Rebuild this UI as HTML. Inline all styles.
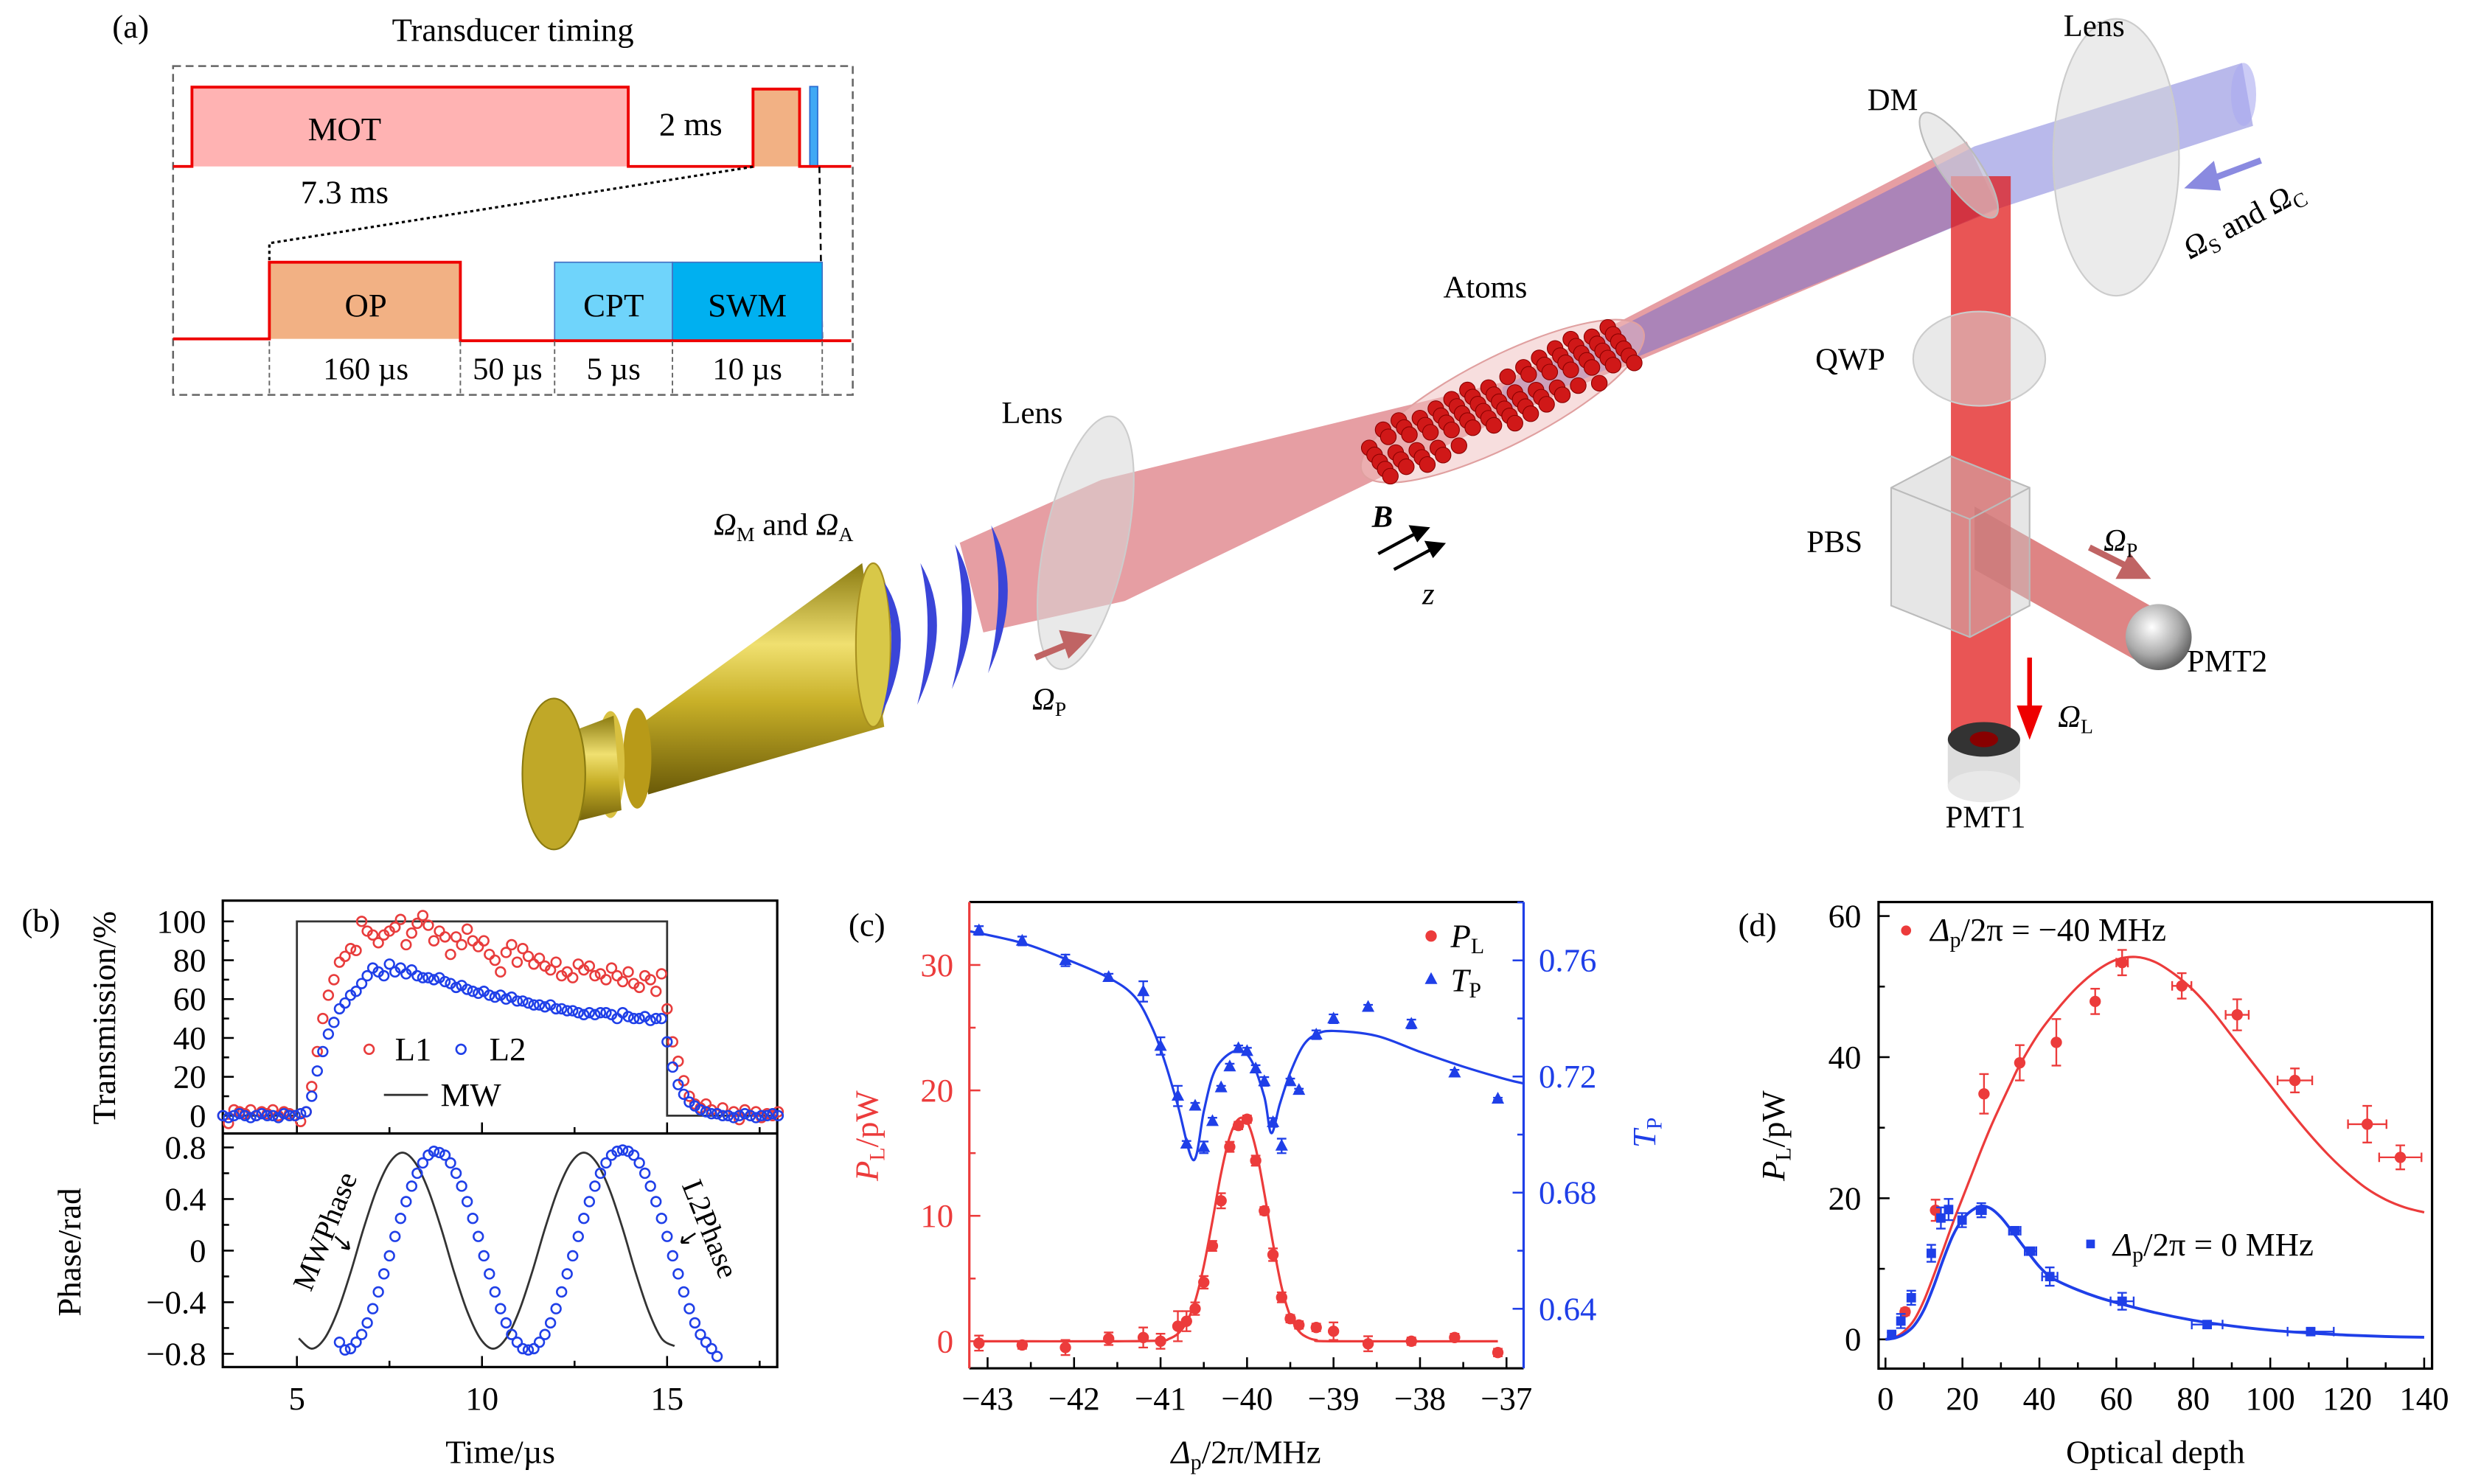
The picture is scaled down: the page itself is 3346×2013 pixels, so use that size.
<!DOCTYPE html>
<html><head><meta charset="utf-8"><style>
html,body{margin:0;padding:0;background:#fff;}
svg, svg text{font-family:"Liberation Serif","DejaVu Serif",serif;}
</style></head><body>
<svg id="fig" xmlns="http://www.w3.org/2000/svg" width="3346" height="2008" viewBox="0 0 1568 941" font-family="Liberation Serif, serif">
<defs>
<linearGradient id="gold" x1="0" y1="0" x2="0" y2="1"><stop offset="0" stop-color="#8a7a10"/><stop offset="0.35" stop-color="#f0e070"/><stop offset="0.6" stop-color="#c8b028"/><stop offset="1" stop-color="#6a5a08"/></linearGradient>
<radialGradient id="sph" cx="0.4" cy="0.35" r="0.7"><stop offset="0" stop-color="#fff"/><stop offset="0.6" stop-color="#aaa"/><stop offset="1" stop-color="#555"/></radialGradient>
</defs>
<!-- Panel a: timing -->
<g>
<text x="83" y="24" font-size="21" text-anchor="middle">(a)</text>
<text x="326" y="26" font-size="21" text-anchor="middle">Transducer timing</text>
<rect x="110" y="42" width="432" height="209" fill="none" stroke="#666" stroke-width="1.2" stroke-dasharray="5,3"/>
<rect x="122" y="55.4" width="277" height="50.4" fill="#ffb3b3"/>
<rect x="478.6" y="56.6" width="29.6" height="49.2" fill="#f2b184"/>
<rect x="514.7" y="55" width="5" height="50.8" fill="#3fa9f5" stroke="#2a6bd0" stroke-width="0.8"/>
<polyline points="110,105.8 122,105.8 122,55.4 399.3,55.4 399.3,105.8 478.6,105.8 478.6,56.6 508.2,56.6 508.2,105.8 541,105.8" fill="none" stroke="#e00" stroke-width="1.8"/>
<text x="219" y="89" font-size="21" text-anchor="middle">MOT</text>
<text x="439" y="86" font-size="21" text-anchor="middle">2 ms</text>
<text x="219" y="129" font-size="21" text-anchor="middle">7.3 ms</text>
<polyline points="478.6,106 171.2,154.6 171.2,166.7" fill="none" stroke="#000" stroke-width="1.5" stroke-dasharray="2,2"/>
<line x1="520.8" y1="106" x2="522.6" y2="216.7" stroke="#000" stroke-width="1.2" stroke-dasharray="4,3"/>
<rect x="171.2" y="166.7" width="121.4" height="48.7" fill="#f2b184"/>
<rect x="352.5" y="166.7" width="74.9" height="49.5" fill="#6fd4fb" stroke="#4472c4" stroke-width="0.8"/>
<rect x="427.4" y="166.7" width="95.2" height="49.5" fill="#00b0f0" stroke="#4472c4" stroke-width="0.8"/>
<polyline points="110,215.4 171.2,215.4 171.2,166.7 292.6,166.7 292.6,216.6 541,216.6" fill="none" stroke="#e00" stroke-width="1.8"/>
<text x="232.5" y="201" font-size="21" text-anchor="middle">OP</text>
<text x="390" y="201" font-size="21" text-anchor="middle">CPT</text>
<text x="475" y="201" font-size="21" text-anchor="middle">SWM</text>
<g stroke="#666" stroke-width="0.9" stroke-dasharray="3,2">
<line x1="171.2" y1="217" x2="171.2" y2="251"/><line x1="292.6" y1="217" x2="292.6" y2="251"/><line x1="352.5" y1="217" x2="352.5" y2="251"/><line x1="427.4" y1="217" x2="427.4" y2="251"/><line x1="522.6" y1="217" x2="522.6" y2="251"/>
</g>
<text x="232.5" y="241" font-size="20" text-anchor="middle">160 µs</text>
<text x="322.6" y="241" font-size="20" text-anchor="middle">50 µs</text>
<text x="390" y="241" font-size="20" text-anchor="middle">5 µs</text>
<text x="475" y="241" font-size="20" text-anchor="middle">10 µs</text>
</g>
<!-- Illustration -->
<g>
<polygon points="610,345 700,305 955,243 1250,90 1270,132 955,266 715,382 625,402" fill="rgba(200,40,50,0.45)"/>
<polygon points="1425,40 1255,93 955,246 955,262 1272,132 1432,80" fill="rgba(100,100,210,0.45)"/>
<ellipse cx="1426" cy="60" rx="8" ry="20" fill="rgba(170,170,240,0.6)"/>
<rect x="1240" y="112" width="38" height="360" fill="rgba(225,20,20,0.72)"/>
<polygon points="1255,322 1372,388 1365,424 1255,362" fill="rgba(200,50,50,0.6)"/>
<ellipse cx="690" cy="345" rx="26" ry="82" transform="rotate(12 690 345)" fill="rgba(215,215,215,0.55)" stroke="#ccc"/>
<ellipse cx="1345" cy="100" rx="40" ry="88" fill="rgba(215,215,215,0.5)" stroke="#ccc"/>
<ellipse cx="1245" cy="105" rx="12" ry="40" transform="rotate(-35 1245 105)" fill="rgba(220,220,220,0.6)" stroke="#bbb"/>
<ellipse cx="1258" cy="228" rx="42" ry="30" fill="rgba(215,215,215,0.55)" stroke="#ccc"/>
<g>
<polygon points="1202,310 1240,290 1290,310 1290,385 1252,405 1202,385" fill="rgba(200,200,200,0.45)" stroke="#bbb"/>
<polyline points="1202,310 1252,330 1290,310" fill="none" stroke="#bbb"/><line x1="1252" y1="330" x2="1252" y2="405" stroke="#bbb"/>
</g>
<g><rect x="1238" y="470" width="46" height="30" fill="#ddd"/><ellipse cx="1261" cy="500" rx="23" ry="10" fill="#e8e8e8"/><ellipse cx="1261" cy="470" rx="23" ry="11" fill="#333"/><ellipse cx="1261" cy="470" rx="9" ry="5" fill="#800"/></g>
<circle cx="1372" cy="405" r="21" fill="url(#sph)"/>
<ellipse cx="955" cy="255" rx="100" ry="28" transform="rotate(-27 955 255)" fill="rgba(240,190,190,0.5)" stroke="#e0a0a0"/>
<g id="atoms"></g>
<g>
<polygon points="405,462 548,358 562,462 412,505" fill="url(#gold)"/>
<ellipse cx="555" cy="410" rx="11" ry="52" fill="#d8c848" stroke="#a89020"/>
<ellipse cx="405" cy="482" rx="9" ry="32" fill="#b89a18"/>
<ellipse cx="388" cy="486" rx="9" ry="34" fill="#d8c040"/>
<polygon points="350,470 390,455 395,515 355,525" fill="url(#gold)"/>
<ellipse cx="352" cy="492" rx="20" ry="48" fill="#c0a828" stroke="#8a7a10"/>
</g>
<g fill="#3a45d8">
<path d="M562,370 q22,35 -2,85 q12,-45 2,-85z"/><path d="M585,358 q22,38 -2,90 q12,-48 2,-90z"/><path d="M607,346 q22,38 -2,92 q12,-48 2,-92z"/><path d="M630,334 q22,40 -2,94 q12,-50 2,-94z"/>
</g>
<g stroke="#c06464" stroke-width="4" fill="#c06464"><line x1="658" y1="418" x2="680" y2="409"/><polygon points="690,405 676,403 680,415"/></g>
<g stroke="#8a8ae0" stroke-width="4" fill="#8a8ae0"><line x1="1437" y1="102" x2="1405" y2="114"/><polygon points="1393,118 1406,106 1409,119"/></g>
<g stroke="#e00" stroke-width="3" fill="#e00"><line x1="1290" y1="418" x2="1290" y2="452"/><polygon points="1290,466 1284,450 1296,450"/></g>
<g stroke="#c06464" stroke-width="4" fill="#c06464"><line x1="1328" y1="348" x2="1352" y2="360"/><polygon points="1363,366 1348,366 1354,355"/></g>
<g stroke="#000" stroke-width="2" fill="#000"><line x1="876" y1="352" x2="900" y2="339"/><polygon points="907,336 897,335 901,343"/><line x1="886" y1="362" x2="910" y2="349"/><polygon points="917,346 907,345 911,353"/></g>
<g font-size="20">
<text x="656" y="269" text-anchor="middle">Lens</text>
<text x="944" y="189" text-anchor="middle">Atoms</text>
<text x="1203" y="70" text-anchor="middle">DM</text>
<text x="1331" y="23" text-anchor="middle">Lens</text>
<text x="1176" y="235" text-anchor="middle">QWP</text>
<text x="1166" y="351" text-anchor="middle">PBS</text>
<text x="1390" y="427">PMT2</text>
<text x="1262" y="526" text-anchor="middle">PMT1</text>
<text x="498" y="340" text-anchor="middle"><tspan font-style="italic">Ω</tspan><tspan font-size="13" dy="4">M</tspan><tspan dy="-4"> and </tspan><tspan font-style="italic">Ω</tspan><tspan font-size="13" dy="4">A</tspan></text>
<text x="656" y="451"><tspan font-style="italic">Ω</tspan><tspan font-size="13" dy="4">P</tspan></text>
<text x="1337" y="350"><tspan font-style="italic">Ω</tspan><tspan font-size="13" dy="4">P</tspan></text>
<text x="1308" y="462"><tspan font-style="italic">Ω</tspan><tspan font-size="13" dy="4">L</tspan></text>
<text x="1392" y="165" transform="rotate(-28 1392 165)"><tspan font-style="italic">Ω</tspan><tspan font-size="13" dy="4">S</tspan><tspan dy="-4"> and </tspan><tspan font-style="italic">Ω</tspan><tspan font-size="13" dy="4">C</tspan></text>
<text x="872" y="335" font-weight="bold" font-style="italic">B</text>
<text x="904" y="384" font-style="italic">z</text>
</g>
</g>
<g id="pb"></g>
<g id="pc"></g>
<g id="pd"></g>
</svg>
<script>
// ---------- Panel b data ----------
const bT0 = 3.0, bDT = 0.15;
const bL1 = [0,-4,3,2,1,3,0,2,1,3,0,2,1,0,-3,2,15,33,50,62,70,79,82,86,85,100,95,93,89,93,95,97,101,88,94,99,103,98,90,95,92,83,92,88,96,90,87,90,83,80,74,84,88,79,86,82,78,81,77,75,79,72,74,71,78,75,77,72,73,70,76,72,69,74,68,66,72,70,64,73,55,38,28,18,10,6,4,6,3,1,4,0,2,-2,3,0,2,-1,1,0,2];
const bL2 = [0,-1,0,1,0,-1,0,1,0,0,-1,1,0,0,1,2,10,23,33,42,48,55,58,62,64,68,72,76,74,72,78,74,76,73,75,72,71,71,70,71,69,68,66,67,65,64,63,64,62,61,62,60,61,59,59,58,57,57,56,57,55,55,54,54,53,52,53,52,53,53,52,50,53,51,50,50,51,49,50,50,38,25,16,11,7,5,3,2,1,1,0,0,-1,0,1,0,-1,0,0,1,0];
const bMWt = [3,5,5,15,15,18];
const bMWv = [0,0,100,100,0,0];
const bPhT0 = 5.05, bPhDT = 0.35;
const bMWPhase = [-0.68,-0.76,-0.68,-0.47,-0.17,0.17,0.47,0.68,0.76,0.68,0.47,0.17,-0.17,-0.47,-0.68,-0.76,-0.68,-0.47,-0.17,0.17,0.47,0.68,0.76,0.68,0.47,0.17,-0.17,-0.47,-0.68,-0.74];
const bL2T0 = 6.15, bL2DT = 0.15;
const bL2Phase = [-0.71,-0.77,-0.76,-0.71,-0.65,-0.56,-0.45,-0.32,-0.18,-0.04,0.11,0.25,0.38,0.50,0.60,0.68,0.74,0.77,0.76,0.74,0.68,0.60,0.50,0.38,0.25,0.11,-0.04,-0.18,-0.32,-0.45,-0.56,-0.65,-0.71,-0.76,-0.77,-0.76,-0.71,-0.65,-0.56,-0.45,-0.32,-0.18,-0.04,0.11,0.25,0.38,0.50,0.60,0.68,0.74,0.77,0.78,0.77,0.74,0.68,0.60,0.50,0.38,0.25,0.11,-0.04,-0.18,-0.32,-0.45,-0.56,-0.65,-0.71,-0.76,-0.82];
const bXTicks = [5,10,15];
const bTTicks = [0,20,40,60,80,100];
const bPTicks = [0.8,0.4,0,-0.4,-0.8];
const bPTickLabels = ["0.8","0.4","0","\u22120.4","\u22120.8"];
// ---------- Panel c data ----------
const cX = [-43.1,-42.6,-42.1,-41.6,-41.2,-41.0,-40.8,-40.7,-40.6,-40.5,-40.4,-40.3,-40.2,-40.1,-40.0,-39.9,-39.8,-39.7,-39.6,-39.5,-39.4,-39.2,-39.0,-38.6,-38.1,-37.6,-37.1];
const cPL = [-0.15,-0.3,-0.5,0.2,0.3,0,1.2,1.6,2.6,4.7,7.6,11.2,15.5,17.2,17.7,14.4,10.4,6.9,3.5,1.8,1.3,1.1,0.8,-0.2,0,0.3,-0.9];
const cPLerr = [0.6,0.3,0.6,0.5,0.8,0.6,1.2,0.8,0.5,0.5,0.4,0.6,0.4,0.3,0.3,0.4,0.3,0.5,0.4,0.3,0.3,0.3,0.7,0.6,0.3,0.3,0.3];
const cTP = [0.7703,0.7667,0.760,0.7542,0.7493,0.7305,0.7133,0.6968,0.7099,0.6956,0.7046,0.7162,0.7234,0.7297,0.7287,0.7227,0.7183,0.7042,0.6961,0.7183,0.7153,0.7344,0.7399,0.7439,0.7381,0.7213,0.7123];
const cTPerr = [0.0015,0.0015,0.002,0.0012,0.0035,0.003,0.0035,0.001,0.001,0.002,0.0012,0.0006,0.001,0.001,0.0012,0.0012,0.0015,0.0015,0.0025,0.001,0.0005,0.0015,0.0015,0.0008,0.0015,0.001,0.0004];
const cFitPLx = [-43.1,-41.5,-41.0,-40.9,-40.8,-40.7,-40.6,-40.5,-40.4,-40.3,-40.2,-40.1,-40.0,-39.9,-39.8,-39.7,-39.6,-39.5,-39.4,-39.3,-39.2,-39.0,-37.1];
const cFitPLy = [0,0,0.05,0.2,0.6,1.5,3.2,6.0,9.6,13.4,16.3,17.7,17.5,15.4,11.8,7.8,4.3,2.0,0.8,0.3,0.1,0,0];
const cFitTPx = [-43.2,-42.6,-42.1,-41.6,-41.3,-41.1,-40.95,-40.8,-40.62,-40.5,-40.4,-40.28,-40.1,-39.95,-39.8,-39.72,-39.62,-39.5,-39.35,-39.2,-39.0,-38.5,-38.0,-37.5,-37.0,-36.8];
const cFitTPy = [0.7700,0.7660,0.7605,0.7540,0.7475,0.7370,0.7250,0.7100,0.6912,0.7080,0.7200,0.7260,0.7290,0.7255,0.7130,0.7005,0.7106,0.7213,0.7307,0.7345,0.7357,0.7340,0.7285,0.7234,0.7190,0.7176];
const cXTicks = [-43,-42,-41,-40,-39,-38,-37];
const cXTickLabels = ["\u221243","\u221242","\u221241","\u221240","\u221239","\u221238","\u221237"];
const cLTicks = [0,10,20,30];
const cRTicks = [0.64,0.68,0.72,0.76];
// ---------- Panel d data ----------
const dRedX = [5.1,13.0,25.6,34.9,44.4,54.5,61.5,77.0,91.4,106.4,125.2,133.8];
const dRedY = [3.9,18.3,34.8,39.2,42.1,47.9,53.4,50.1,46.0,36.7,30.5,25.8];
const dRedYerr = [0.5,1.5,2.8,2.5,3.3,1.8,1.8,1.8,2.2,1.7,2.6,1.7];
const dRedXerr = [0,0,0,0,0,0,1.5,2.5,3,4.5,5,5.5];
const dBlueX = [1.6,4.0,6.7,11.9,14.4,16.4,19.9,24.9,33.6,37.7,42.7,61.5,83.6,110.5];
const dBlueY = [0.7,2.6,5.9,12.2,17.2,18.4,16.9,18.3,15.4,12.5,8.9,5.4,2.1,1.1];
const dBlueYerr = [0.3,1,1,1.2,1.5,1.5,1,1,0.5,0.5,1.3,1.2,0.5,0.4];
const dBlueXerr = [0,0,0,0,0,0,0,1.2,1.5,1.5,2,3,4,6];
const dFitRedX = [0,2.5,5,7.5,10,12.5,15,17.5,20,22.5,25,27.5,30,32.5,35,40,45,50,55,60,65,70,75,80,85,90,95,100,105,110,115,120,125,130,135,140];
const dFitRedY = [0,0.3,1.2,2.8,5.5,9,12.7,16.5,20,23.5,27,30.3,33.3,36.2,39,43.5,47,50,52.3,53.8,54.2,53.5,51.8,49.5,46.5,43,39.5,36,32.5,29.2,26.2,23.6,21.4,19.8,18.7,18.0];
const dFitBlueX = [0,2.5,5,7.5,10,12.5,15,17.5,20,22.5,25,27.5,30,32.5,35,37.5,40,42.5,45,50,55,60,70,80,90,100,110,120,130,140];
const dFitBlueY = [0,0.2,0.8,2,4.2,7.5,11.3,14.7,17,18.3,18.9,18.5,17.3,15.6,13.8,12,10.3,9.0,8.2,7,6,5.2,3.8,2.7,1.9,1.3,0.9,0.6,0.4,0.3];
const dXTicks = [0,20,40,60,80,100,120,140];
const dYTicks = [0,20,40,60];

const NS = 'http://www.w3.org/2000/svg';
function mk(tag, attrs, parent){ const e=document.createElementNS(NS,tag); for(const k in attrs) e.setAttribute(k, attrs[k]); parent.appendChild(e); return e; }
function smooth(pts){ let d='M'+pts[0][0]+','+pts[0][1]; for(let i=0;i<pts.length-1;i++){ const p0=pts[Math.max(0,i-1)],p1=pts[i],p2=pts[i+1],p3=pts[Math.min(pts.length-1,i+2)]; const c1=[p1[0]+(p2[0]-p0[0])/6,p1[1]+(p2[1]-p0[1])/6], c2=[p2[0]-(p3[0]-p1[0])/6,p2[1]-(p3[1]-p1[1])/6]; d+=' C'+c1[0]+','+c1[1]+' '+c2[0]+','+c2[1]+' '+p2[0]+','+p2[1]; } return d; }
function txt(parent, x, y, s, size, anchor, fill){ const t=mk('text',{x:x,y:y,'font-size':size,'text-anchor':anchor||'middle',fill:fill||'#000','font-family':'Liberation Serif, serif'},parent); t.textContent=s; return t; }

// atoms decoration
(function(){ const g=document.getElementById('atoms'); for(let i=0;i<80;i++){ const u=((i*37)%80)/80-0.5, v=((i*29+7)%31)/31-0.5; const x=955+u*165+v*8, y=255-u*78+v*34; const c=mk('circle',{cx:x.toFixed(1),cy:y.toFixed(1),r:5,fill:'#d01818',stroke:'#800','stroke-width':0.5},g);

 } })();

// ---------- Panel b ----------
(function(){
const g=document.getElementById('pb');
const X=t=>188.7+(t-5)*23.53, YT=v=>709.2-v*1.235, YP=v=>795-v*82;
const L=141.6,R=494,T=572.5,M=720.5,B=869;
const fr=mk('rect',{x:L,y:T,width:R-L,height:B-T,fill:'none',stroke:'#000','stroke-width':1.5},g);


const dv=mk('line',{x1:L,y1:M,x2:R,y2:M,stroke:'#000','stroke-width':1.5},g);


for(let t=5;t<=17.5;t+=2.5){ const maj=(t%5===0); for(const yb of [M,B]){ const tk=mk('line',{x1:X(t),x2:X(t),y1:yb,y2:yb-(maj?7:4),stroke:'#000','stroke-width':1.2},g);

 } }
bXTicks.forEach(t=>{ const l=txt(g,X(t),896,String(t),21);

 });
for(let v=0;v<=100;v+=10){ const tk=mk('line',{x1:L,x2:L+(v%20===0?7:4),y1:YT(v),y2:YT(v),stroke:'#000','stroke-width':1.2},g);

 }
bTTicks.forEach(v=>{ const l=txt(g,131,YT(v)+7,String(v),21,'end');

 });
for(let v=-0.8;v<=0.81;v+=0.2){ const maj=Math.abs(Math.round(v*10))%4===0; const tk=mk('line',{x1:L,x2:L+(maj?7:4),y1:YP(v),y2:YP(v),stroke:'#000','stroke-width':1.2},g);

 }
bPTicks.forEach((v,i)=>{ const l=txt(g,131,YP(v)+7,bPTickLabels[i],21,'end');

 });
const mw=mk('polyline',{points:bMWt.map((t,i)=>X(t)+','+YT(bMWv[i])).join(' '),fill:'none',stroke:'#333','stroke-width':1.3},g);


bL1.forEach((v,i)=>{ const c=mk('circle',{cx:X(bT0+i*bDT),cy:YT(v),r:3,fill:'none',stroke:'#e83c3c','stroke-width':1.2},g);

 });
bL2.forEach((v,i)=>{ const c=mk('circle',{cx:X(bT0+i*bDT),cy:YT(v),r:3,fill:'none',stroke:'#1f3fe8','stroke-width':1.2},g);

 });
const ph=mk('path',{d:smooth(bMWPhase.map((v,i)=>[X(bPhT0+i*bPhDT),YP(v)])),fill:'none',stroke:'#333','stroke-width':1.3},g);


bL2Phase.forEach((v,i)=>{ const c=mk('circle',{cx:X(bL2T0+i*bL2DT),cy:YP(v),r:3,fill:'none',stroke:'#1f3fe8','stroke-width':1.2},g);

 });
const le=mk('g',{},g);


mk('circle',{cx:234.6,cy:667,r:3,fill:'none',stroke:'#e83c3c','stroke-width':1.2},le);
txt(le,251,674,'L1',21,'start');
mk('circle',{cx:293,cy:667,r:3,fill:'none',stroke:'#1f3fe8','stroke-width':1.2},le);
txt(le,311,674,'L2',21,'start');
mk('line',{x1:244,x2:272,y1:696,y2:696,stroke:'#333','stroke-width':1.3},le);
txt(le,280,703,'MW',21,'start');
const a1=txt(g,205,790,'MWPhase',19);
a1.setAttribute('transform','rotate(-68 205 782)');


const a2=txt(g,452,788,'L2Phase',19);
a2.setAttribute('transform','rotate(68 452 781)');


const ar1=mk('path',{d:'M213,786 L222,794 M222,794 l-5,-1 M222,794 l-1,-5',stroke:'#000','stroke-width':1.2,fill:'none'},g);


const ar2=mk('path',{d:'M442,784 L433,790 M433,790 l5,0 M433,790 l1,-4',stroke:'#000','stroke-width':1.2,fill:'none'},g);


const xl=txt(g,318,930,'Time/µs',21);


const y1=txt(g,0,0,'Transmission/%',21);
y1.setAttribute('transform','translate(73 647) rotate(-90)');


const y2=txt(g,0,0,'Phase/rad',21);
y2.setAttribute('transform','translate(51 796) rotate(-90)');


const pl=txt(g,26,592,'(b)',21);


})();

// ---------- Panel c ----------
(function(){
const g=document.getElementById('pc');
const X=x=>627.7+(x+43)*54.97, YL=v=>852.6-v*7.973, YR=v=>610.5+(0.76-v)*1845.5;
const L=616.1,R=968.4,T=573.4,B=869.8;
const red='#ec3b3b', blue='#1f3fe8';
const f1=mk('line',{x1:L,y1:T,x2:R,y2:T,stroke:'#000','stroke-width':1.5},g);


const f2=mk('line',{x1:L,y1:B,x2:R,y2:B,stroke:'#000','stroke-width':1.5},g);


const f3=mk('line',{x1:L,y1:T,x2:L,y2:B,stroke:red,'stroke-width':1.5},g);


const f4=mk('line',{x1:R,y1:T,x2:R,y2:B,stroke:blue,'stroke-width':1.5},g);


for(let x=-43;x<=-37;x+=0.5){ const maj=Number.isInteger(x); const tk=mk('line',{x1:X(x),x2:X(x),y1:B,y2:B-(maj?7:4),stroke:'#000','stroke-width':1.2},g);

 }
cXTicks.forEach((x,i)=>{ const l=txt(g,X(x),896,cXTickLabels[i],21);

 });
for(let v=0;v<=30;v+=5){ const tk=mk('line',{x1:L,x2:L+(v%10===0?7:4),y1:YL(v),y2:YL(v),stroke:red,'stroke-width':1.2},g);

 }
cLTicks.forEach(v=>{ const l=txt(g,606,YL(v)+7,String(v),21,'end',red);

 });
for(let v=0.64;v<=0.7801;v+=0.02){ const maj=Math.round(v*100)%4===0; const tk=mk('line',{x1:R,x2:R-(maj?7:4),y1:YR(v),y2:YR(v),stroke:blue,'stroke-width':1.2},g);

 }
cRTicks.forEach(v=>{ const l=txt(g,978,YR(v)+7,v.toFixed(2),21,'start',blue);

 });
const fp=mk('path',{d:smooth(cFitPLx.map((x,i)=>[X(x),YL(cFitPLy[i])])),fill:'none',stroke:red,'stroke-width':1.5},g);


const ft=mk('path',{d:smooth(cFitTPx.map((x,i)=>[X(x),YR(cFitTPy[i])])),fill:'none',stroke:blue,'stroke-width':1.5},g);


cX.forEach((x,i)=>{ const cx=X(x);
 const y=YL(cPL[i]), e=cPLerr[i]*7.973;
 const eb=mk('path',{d:`M${cx},${y-e}V${y+e}M${cx-3},${y-e}h6M${cx-3},${y+e}h6`,stroke:red,'stroke-width':1.1,fill:'none'},g);
 
 
 const c=mk('circle',{cx:cx,cy:y,r:3.6,fill:red},g);
 
 
 const y2=YR(cTP[i]), e2=cTPerr[i]*1845.5;
 const eb2=mk('path',{d:`M${cx},${y2-e2}V${y2+e2}M${cx-3},${y2-e2}h6M${cx-3},${y2+e2}h6`,stroke:blue,'stroke-width':1.1,fill:'none'},g);
 
 
 const tr=mk('polygon',{points:`${cx},${y2-4.5} ${cx-4},${y2+3} ${cx+4},${y2+3}`,fill:blue},g);
 
 
});
const le=mk('g',{},g);


mk('circle',{cx:909.6,cy:595,r:3.6,fill:red},le);
const t1=txt(le,922,602,'',21,'start'); t1.innerHTML='<tspan font-style="italic">P</tspan><tspan font-size="14" dy="4">L</tspan>';
mk('polygon',{points:'909.6,618 905.6,625.5 913.6,625.5',fill:blue},le);
const t2=txt(le,922,630,'',21,'start'); t2.innerHTML='<tspan font-style="italic">T</tspan><tspan font-size="14" dy="4">P</tspan>';
const xl=txt(g,792,930,'',21);
xl.innerHTML='<tspan font-style="italic">Δ</tspan><tspan font-size="14" dy="4">p</tspan><tspan dy="-4">/2π/MHz</tspan>';


const yl=txt(g,0,0,'',21,'middle',red);
yl.innerHTML='<tspan font-style="italic">P</tspan><tspan font-size="14" dy="4">L</tspan><tspan dy="-4">/pW</tspan>';
yl.setAttribute('transform','translate(558 722) rotate(-90)');


const yr=txt(g,0,0,'',21,'middle',blue);
yr.innerHTML='<tspan font-style="italic">T</tspan><tspan font-size="14" dy="4">P</tspan>';
yr.setAttribute('transform','translate(1052 720) rotate(-90)');


const pl=txt(g,551,595,'(c)',21);


})();

// ---------- Panel d ----------
(function(){
const g=document.getElementById('pd');
const X=x=>1198.4+x*2.4457, Y=v=>851.4-v*4.485;
const L=1194,R=1545.8,T=573.4,B=870;
const red='#ec3b3b', blue='#1f3fe8';
const fr=mk('rect',{x:L,y:T,width:R-L,height:B-T,fill:'none',stroke:'#000','stroke-width':1.5},g);


for(let x=0;x<=140;x+=10){ const tk=mk('line',{x1:X(x),x2:X(x),y1:B,y2:B-(x%20===0?7:4),stroke:'#000','stroke-width':1.2},g);

 }
dXTicks.forEach(x=>{ const l=txt(g,X(x),896,String(x),21);

 });
for(let v=0;v<=60;v+=10){ const tk=mk('line',{x1:L,x2:L+(v%20===0?7:4),y1:Y(v),y2:Y(v),stroke:'#000','stroke-width':1.2},g);

 }
dYTicks.forEach(v=>{ const l=txt(g,1183,Y(v)+7,String(v),21,'end');

 });
const fr1=mk('path',{d:smooth(dFitRedX.map((x,i)=>[X(x),Y(dFitRedY[i])])),fill:'none',stroke:red,'stroke-width':1.5},g);


const fb1=mk('path',{d:smooth(dFitBlueX.map((x,i)=>[X(x),Y(dFitBlueY[i])])),fill:'none',stroke:blue,'stroke-width':1.8},g);


function eb(x,y,xe,ye,col){ const cx=X(x),cy=Y(y),ey=ye*4.485,ex=xe*2.4457; let d=`M${cx},${cy-ey}V${cy+ey}M${cx-3},${cy-ey}h6M${cx-3},${cy+ey}h6`; if(xe>0) d+=`M${cx-ex},${cy}H${cx+ex}M${cx-ex},${cy-3}v6M${cx+ex},${cy-3}v6`; return mk('path',{d:d,stroke:col,'stroke-width':1.1,fill:'none'},g); }
dRedX.forEach((x,i)=>{ const e=eb(x,dRedY[i],dRedXerr[i],dRedYerr[i],red);
 
 
 const c=mk('circle',{cx:X(x),cy:Y(dRedY[i]),r:3.6,fill:red},g);
 
  });
dBlueX.forEach((x,i)=>{ const e=eb(x,dBlueY[i],dBlueXerr[i],dBlueYerr[i],blue);
 
 
 const s=mk('rect',{x:X(x)-3,y:Y(dBlueY[i])-3,width:6,height:6,fill:blue},g);
 
  });
const l1=mk('g',{},g);


mk('circle',{cx:1211.5,cy:591.5,r:3.2,fill:red},l1);
const t1=txt(l1,1227,598,'',21,'start'); t1.innerHTML='<tspan font-style="italic">Δ</tspan><tspan font-size="14" dy="4">p</tspan><tspan dy="-4">/2π = −40 MHz</tspan>';
const l2=mk('g',{},g);


mk('rect',{x:1326,y:788,width:5.5,height:5.5,fill:blue},l2);
const t2=txt(l2,1343,798,'',21,'start'); t2.innerHTML='<tspan font-style="italic">Δ</tspan><tspan font-size="14" dy="4">p</tspan><tspan dy="-4">/2π = 0 MHz</tspan>';
const xl=txt(g,1370,930,'Optical depth',21);


const yl=txt(g,0,0,'',21);
yl.innerHTML='<tspan font-style="italic">P</tspan><tspan font-size="14" dy="4">L</tspan><tspan dy="-4">/pW</tspan>';
yl.setAttribute('transform','translate(1134 722) rotate(-90)');


const pl=txt(g,1117,595,'(d)',21);


})();
</script>
</body></html>
